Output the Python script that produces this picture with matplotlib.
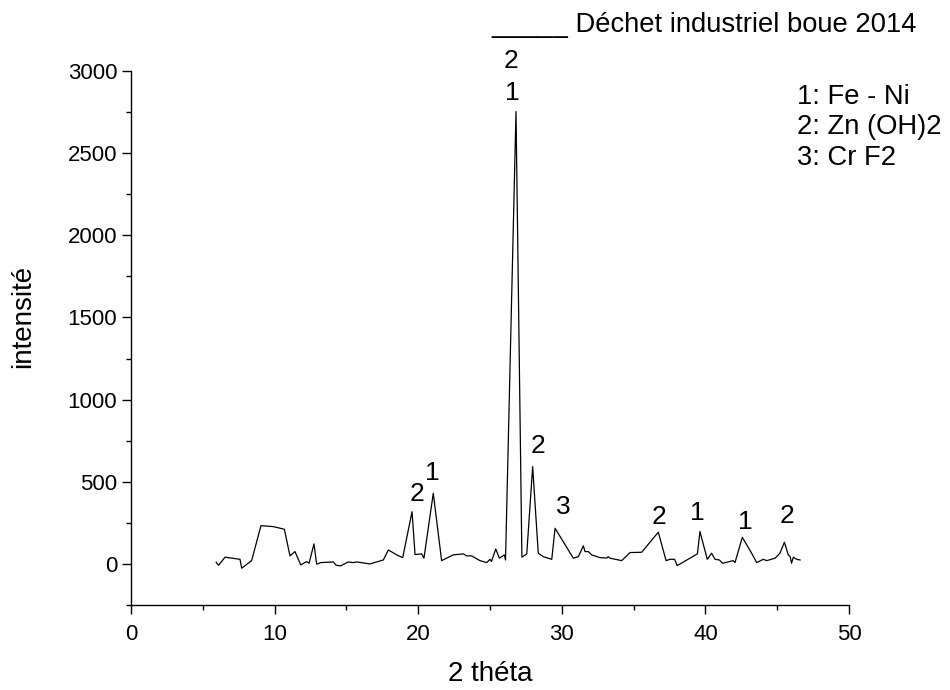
import matplotlib
matplotlib.use('Agg')
import matplotlib.pyplot as plt
from matplotlib.ticker import MultipleLocator

plt.rcParams['font.family'] = ['Liberation Sans', 'DejaVu Sans']

# diffractogram
two_theta = [5.93, 6.10, 6.55, 7.59, 7.71, 8.40, 9.05, 9.91, 10.68, 11.07,
             11.42, 11.82, 12.23, 12.40, 12.74, 12.93, 13.21, 14.09, 14.28, 14.60,
             15.13, 15.44, 15.72, 16.64, 17.57, 17.92, 18.50, 18.92, 19.57, 19.78,
             20.24, 20.40, 21.05, 21.63, 22.44, 23.14, 23.37, 23.72, 24.30, 24.77,
             25.00, 25.10, 25.40, 25.65, 26.00, 26.08, 26.81, 27.22, 27.56, 27.97,
             28.36, 28.71, 29.30, 29.53, 30.80, 31.15, 31.50, 31.62, 31.85, 32.08,
             32.66, 33.13, 33.24, 33.35, 34.17, 34.75, 35.56, 36.72, 37.26, 37.53,
             37.85, 38.04, 39.44, 39.62, 40.13, 40.43, 40.67, 40.97, 41.20, 41.94,
             42.06, 42.57, 43.22, 43.57, 44.03, 44.27, 44.85, 45.19, 45.50, 45.77,
             45.90, 46.00, 46.12, 46.35, 46.59]
intensity = [10, -8, 41, 28, -26, 20, 233, 227, 211, 49,
             75, -6, 14, 4, 122, -2, 8, 12, -8, -12,
             12, 8, 12, 0, 24, 85, 55, 38, 318, 57,
             61, 35, 430, 20, 55, 61, 49, 49, 20, 8,
             28, 15, 91, 35, 55, 24, 2753, 41, 61, 592,
             65, 44, 28, 217, 35, 44, 110, 75, 75, 55,
             38, 36, 44, 35, 20, 69, 71, 193, 20, 28,
             28, -10, 61, 197, 28, 65, 28, 24, 4, 20,
             8, 162, 65, 8, 28, 20, 35, 65, 132, 55,
             45, 4, 41, 28, 24]

# phase labels above the peaks
peak_labels = ['2', '1', '2', '1', '2', '3', '2', '1', '1', '2']
peak_x = [26.43, 26.57, 19.95, 21.0, 28.32, 30.08, 36.75, 39.42, 42.76, 45.68]
peak_y = [3061, 2867, 426, 554, 718, 347, 286, 310, 256, 292]

phases = ['1: Fe - Ni', '2: Zn (OH)2', '3: Cr F2']

fig = plt.figure(figsize=(9.5, 6.9), dpi=100)
ax = fig.add_axes([0.1379, 0.1232, 0.7558, 0.7739])

ax.plot(two_theta, intensity, color='black', linewidth=0.9)

ax.set_xlim(0, 50)
ax.set_ylim(-250, 3000)
ax.xaxis.set_major_locator(MultipleLocator(10))
ax.xaxis.set_minor_locator(MultipleLocator(5))
ax.yaxis.set_major_locator(MultipleLocator(500))
ax.yaxis.set_minor_locator(MultipleLocator(250))

for s in ['top', 'right']:
    ax.spines[s].set_visible(False)
for s in ['left', 'bottom']:
    ax.spines[s].set_linewidth(1.0)

ax.tick_params(which='major', direction='out', length=6.5, width=1.0, labelsize=16)
ax.tick_params(which='minor', direction='out', length=3.3, width=1.0)
ax.tick_params(axis='x', which='major', pad=7)

ax.set_xlabel('2 théta', fontsize=20, labelpad=12)
ax.set_ylabel('intensité', fontsize=20)
ax.yaxis.set_label_coords(-0.132, 0.54)

for lab, px, py in zip(peak_labels, peak_x, peak_y):
    ax.text(px, py, lab, fontsize=19, ha='center', va='center')

for i, p in enumerate(phases):
    fig.text(797 / 950, 1 - (97 + 30.5 * i) / 690, p, fontsize=19.7,
             ha='left', va='center')

fig.text(917 / 950, 1 - 25 / 690, '_____ Déchet industriel boue 2014',
         fontsize=19.7, ha='right', va='center')

plt.savefig('out.png', dpi=100)
